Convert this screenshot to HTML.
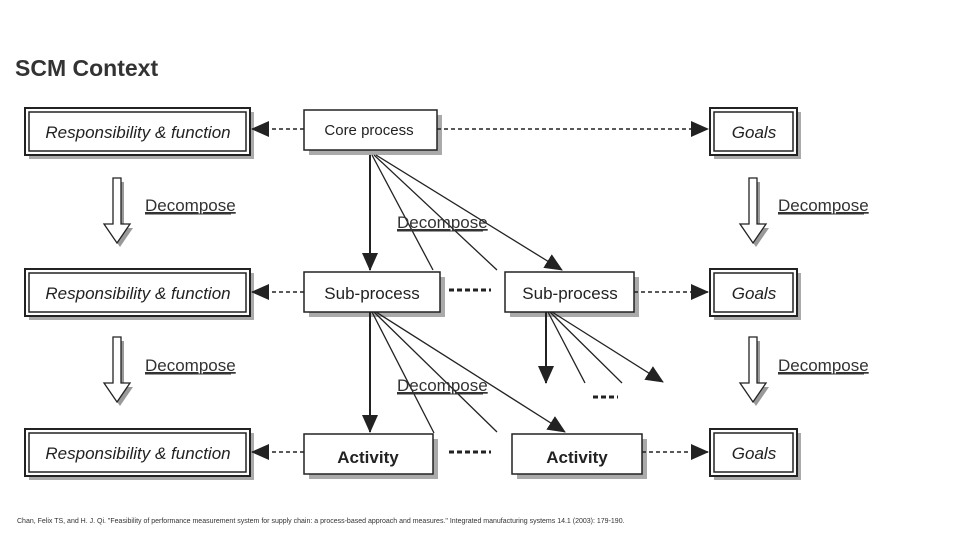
<!DOCTYPE html>
<html><head><meta charset="utf-8"><style>
body{margin:0;background:#fff;width:960px;height:540px;overflow:hidden;font-family:"Liberation Sans",sans-serif}
</style></head><body>
<svg width="960" height="540" xmlns="http://www.w3.org/2000/svg" font-family="Liberation Sans, sans-serif">
<defs>
<marker id="a" markerWidth="10" markerHeight="10" refX="9" refY="5" orient="auto" markerUnits="userSpaceOnUse"><path d="M0,0 L10,5 L0,10z" fill="#222"/></marker>
<marker id="b" markerWidth="18" markerHeight="16" refX="17" refY="8" orient="auto" markerUnits="userSpaceOnUse"><path d="M0,0 L18,8 L0,16z" fill="#222"/></marker>
</defs>
<text x="15" y="76" font-size="23" font-weight="bold" fill="#333">SCM Context</text>
<g id="rows" stroke="#222" fill="#fff">
<!-- responsibility boxes -->
<g>
<rect x="29" y="112" width="225" height="47" fill="#aaa" stroke="none"/>
<rect x="25" y="108" width="225" height="47" stroke-width="2"/><rect x="29" y="112" width="217" height="39" stroke-width="1.5"/>
<rect x="29" y="273" width="225" height="47" fill="#aaa" stroke="none"/>
<rect x="25" y="269" width="225" height="47" stroke-width="2"/><rect x="29" y="273" width="217" height="39" stroke-width="1.5"/>
<rect x="29" y="433" width="225" height="47" fill="#aaa" stroke="none"/>
<rect x="25" y="429" width="225" height="47" stroke-width="2"/><rect x="29" y="433" width="217" height="39" stroke-width="1.5"/>
</g>
<g>
<rect x="714" y="112" width="87" height="47" fill="#aaa" stroke="none"/>
<rect x="710" y="108" width="87" height="47" stroke-width="2"/><rect x="714" y="112" width="79" height="39" stroke-width="1.5"/>
<rect x="714" y="273" width="87" height="47" fill="#aaa" stroke="none"/>
<rect x="710" y="269" width="87" height="47" stroke-width="2"/><rect x="714" y="273" width="79" height="39" stroke-width="1.5"/>
<rect x="714" y="433" width="87" height="47" fill="#aaa" stroke="none"/>
<rect x="710" y="429" width="87" height="47" stroke-width="2"/><rect x="714" y="433" width="79" height="39" stroke-width="1.5"/>
</g>
<!-- process boxes -->
<rect x="309" y="115" width="133" height="40" fill="#aaa" stroke="none"/><rect x="304" y="110" width="133" height="40" stroke-width="1.5"/>
<rect x="309" y="277" width="136" height="40" fill="#aaa" stroke="none"/><rect x="304" y="272" width="136" height="40" stroke-width="1.5"/>
<rect x="510" y="277" width="129" height="40" fill="#aaa" stroke="none"/><rect x="505" y="272" width="129" height="40" stroke-width="1.5"/>
<rect x="309" y="439" width="129" height="40" fill="#aaa" stroke="none"/><rect x="304" y="434" width="129" height="40" stroke-width="1.5"/>
<rect x="517" y="439" width="130" height="40" fill="#aaa" stroke="none"/><rect x="512" y="434" width="130" height="40" stroke-width="1.5"/>
</g>
<g fill="#222" font-style="italic" font-size="17" text-anchor="middle">
<text x="138" y="138">Responsibility &amp; function</text>
<text x="138" y="299">Responsibility &amp; function</text>
<text x="138" y="459">Responsibility &amp; function</text>
<text x="754" y="138">Goals</text><text x="754" y="299">Goals</text><text x="754" y="459">Goals</text>
</g>
<g fill="#222" font-size="15" text-anchor="middle">
<text x="369" y="135">Core process</text>
<text x="372" y="299" font-size="17">Sub-process</text>
<text x="570" y="299" font-size="17">Sub-process</text>
<text x="368" y="463" font-size="17" font-weight="bold">Activity</text>
<text x="577" y="463" font-size="17" font-weight="bold">Activity</text>
</g>
<!-- dashed horizontal arrows -->
<g stroke="#222" stroke-width="1.5" stroke-dasharray="4,3" fill="none">
<line x1="304" y1="129" x2="252" y2="129" marker-end="url(#b)"/>
<line x1="437" y1="129" x2="708" y2="129" marker-end="url(#b)"/>
<line x1="304" y1="292" x2="252" y2="292" marker-end="url(#b)"/>
<line x1="634" y1="292" x2="708" y2="292" marker-end="url(#b)"/>
<line x1="304" y1="452" x2="252" y2="452" marker-end="url(#b)"/>
<line x1="642" y1="452" x2="708" y2="452" marker-end="url(#b)"/>
</g>
<g stroke="#222" stroke-width="3" stroke-dasharray="5,3">
<line x1="449" y1="290" x2="491" y2="290"/><line x1="449" y1="452" x2="491" y2="452"/><line x1="593" y1="397" x2="618" y2="397"/>
</g>
<!-- fan lines -->
<g stroke="#222" stroke-width="1.3" fill="none">
<line x1="370" y1="155" x2="370" y2="270" stroke-width="2" marker-end="url(#b)"/>
<line x1="372" y1="155" x2="433" y2="270"/>
<line x1="374" y1="155" x2="497" y2="270"/>
<line x1="376" y1="155" x2="562" y2="270" marker-end="url(#b)"/>
<line x1="370" y1="312" x2="370" y2="432" stroke-width="2" marker-end="url(#b)"/>
<line x1="372" y1="312" x2="434" y2="433"/>
<line x1="374" y1="312" x2="497" y2="432"/>
<line x1="376" y1="312" x2="565" y2="432" marker-end="url(#b)"/>
<line x1="546" y1="312" x2="546" y2="383" stroke-width="2" marker-end="url(#b)"/>
<line x1="548" y1="312" x2="585" y2="383"/>
<line x1="550" y1="312" x2="622" y2="383"/>
<line x1="552" y1="312" x2="663" y2="382" marker-end="url(#b)"/>
</g>
<!-- hollow arrows -->
<g stroke="#222" stroke-width="1.3" fill="#fff">
<path d="M116,182 L124,182 L124,228 L133,228 L120,247 L107,228 L116,228Z" fill="#999" stroke="none"/>
<path d="M113,178 L121,178 L121,224 L130,224 L117,243 L104,224 L113,224Z"/>
<path d="M116,341 L124,341 L124,387 L133,387 L120,406 L107,387 L116,387Z" fill="#999" stroke="none"/>
<path d="M113,337 L121,337 L121,383 L130,383 L117,402 L104,383 L113,383Z"/>
<path d="M752,182 L760,182 L760,228 L769,228 L756,247 L743,228 L752,228Z" fill="#999" stroke="none"/>
<path d="M749,178 L757,178 L757,224 L766,224 L753,243 L740,224 L749,224Z"/>
<path d="M752,341 L760,341 L760,387 L769,387 L756,406 L743,387 L752,387Z" fill="#999" stroke="none"/>
<path d="M749,337 L757,337 L757,383 L766,383 L753,402 L740,383 L749,383Z"/>
</g>
<g fill="#333" font-size="17" text-decoration="underline">
<text x="145" y="211">Decompose</text><text x="145" y="371">Decompose</text>
<text x="778" y="211">Decompose</text><text x="778" y="371">Decompose</text>
<text x="397" y="228">Decompose</text><text x="397" y="391">Decompose</text>
</g>
<g stroke="#333" stroke-width="1">
<line x1="145" y1="214" x2="231" y2="214"/><line x1="145" y1="374" x2="231" y2="374"/>
<line x1="778" y1="214" x2="864" y2="214"/><line x1="778" y1="374" x2="864" y2="374"/>
<line x1="397" y1="231" x2="483" y2="231"/><line x1="397" y1="394" x2="483" y2="394"/>
</g>
<text x="17" y="523" font-size="7" fill="#333">Chan, Felix TS, and H. J. Qi. "Feasibility of performance measurement system for supply chain: a process-based approach and measures." Integrated manufacturing systems 14.1 (2003): 179-190.</text>
</svg>
</body></html>
